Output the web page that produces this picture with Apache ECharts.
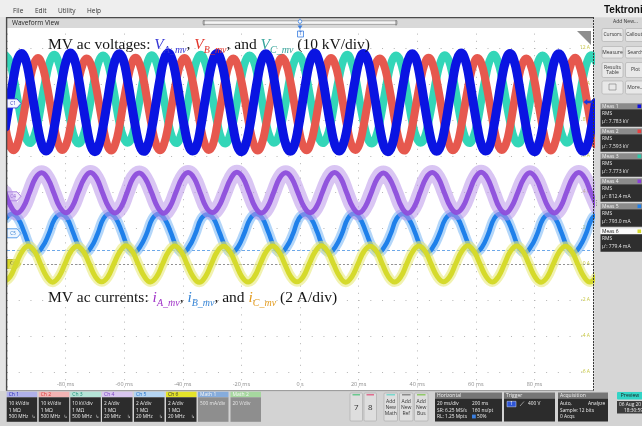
<!DOCTYPE html>
<html><head><meta charset="utf-8">
<script src="https://cdn.jsdelivr.net/npm/echarts/dist/echarts.min.js"></script>
<style>html,body{margin:0;padding:0;background:#dcdcdc;}#c{width:642px;height:426px;}</style>
</head><body><div id="c"></div>
<script>
// ---------------- data ----------------
const periodMs = 16.667;                 // 60 Hz
const voltStartMs = -100.56;             // time of first voltage sample
const voltStepMs = periodMs / 12;        // voltage sample spacing
const currStartA = -100.7, currStartB = -100.35, currStartC = -101.06;
const currStepMs = periodMs / 8;         // current sample spacing

// MV ac voltages, kV (Ch1 = A, Ch2 = B, Ch3 = C)
const vA = [
-6.6,0.3,7.0,12.2,13.9,12.1,6.8,-0.2,-6.8,-11.6,-13.2,-11.7,
-6.7,0.1,6.9,12.0,14.0,12.2,6.9,0.0,-6.6,-11.8,-13.4,-11.5,
-6.5,0.2,7.1,12.1,13.8,12.0,6.7,-0.1,-6.7,-11.7,-13.3,-11.6,
-6.8,0.0,6.8,12.2,14.0,12.1,7.0,0.1,-6.6,-11.6,-13.2,-11.8,
-6.6,0.3,7.0,12.0,13.9,11.9,6.8,-0.2,-6.8,-11.8,-13.4,-11.6,
-6.7,0.1,6.9,12.1,13.8,12.1,6.9,0.0,-6.7,-11.7,-13.3,-11.7,
-6.6,0.2,7.1,12.2,14.0,12.0,6.8,-0.1,-6.6,-11.6,-13.2,-11.5,
-6.8,0.1,6.8,12.0,13.9,12.2,7.0,0.1,-6.7,-11.8,-13.4,-11.7,
-6.5,0.3,7.0,12.1,13.8,12.0,6.7,-0.2,-6.8,-11.7,-13.3,-11.6,
-6.7,0.0,6.9,12.2,14.0,12.1,6.9,0.0,-6.6,-11.6,-13.2,-11.8,
-6.6,0.2,7.0,12.0,13.9,11.9,6.8,-0.1,-6.7,-11.8,-13.4,-11.6,
-6.8,0.1,6.8,12.1,13.8,12.1,7.0,0.1,-6.6,-11.7,-13.3,-11.7,
-6.7,0.2];
const vB = [
-6.4,-11.3,-13.0,-11.2,-6.3,0.1,6.3,10.9,12.6,10.8,6.2,0.0,
-6.5,-11.2,-12.9,-11.3,-6.4,0.0,6.4,10.8,12.5,10.9,6.3,0.1,
-6.3,-11.4,-13.1,-11.3,-6.5,0.2,6.2,10.9,12.7,10.9,6.4,-0.1,
-6.4,-11.3,-13.0,-11.2,-6.4,0.1,6.3,11.0,12.6,10.8,6.3,0.0,
-6.5,-11.3,-12.9,-11.4,-6.3,0.0,6.4,10.9,12.5,10.9,6.2,0.1,
-6.4,-11.2,-13.1,-11.3,-6.4,0.1,6.3,10.8,12.7,11.0,6.3,0.0,
-6.3,-11.3,-13.0,-11.2,-6.5,0.2,6.2,10.9,12.6,10.9,6.4,-0.1,
-6.5,-11.4,-12.9,-11.3,-6.4,0.0,6.4,11.0,12.5,10.8,6.3,0.1,
-6.4,-11.3,-13.1,-11.2,-6.3,0.1,6.3,10.9,12.7,10.9,6.2,0.0,
-6.5,-11.2,-13.0,-11.4,-6.4,0.0,6.2,10.8,12.6,11.0,6.3,0.1,
-6.3,-11.3,-12.9,-11.3,-6.5,0.2,6.4,10.9,12.5,10.9,6.4,-0.1,
-6.4,-11.4,-13.1,-11.2,-6.4,0.1,6.3,11.0,12.7,10.8,6.3,0.0,
-6.5,-11.3];
const vC = [
13.4,11.8,7.3,1.1,-5.1,-9.5,-11.0,-9.4,-5.2,1.2,7.2,11.9,
13.5,11.7,7.4,1.0,-5.0,-9.6,-11.1,-9.5,-5.1,1.1,7.3,11.8,
13.3,11.9,7.2,1.2,-5.2,-9.4,-10.9,-9.6,-5.0,1.0,7.4,11.7,
13.4,11.8,7.3,1.1,-5.1,-9.5,-11.0,-9.4,-5.2,1.2,7.2,11.9,
13.5,11.7,7.3,1.0,-5.0,-9.6,-11.1,-9.5,-5.1,1.1,7.3,11.8,
13.3,11.9,7.4,1.2,-5.2,-9.4,-10.9,-9.6,-5.0,1.0,7.4,11.7,
13.4,11.8,7.2,1.1,-5.1,-9.5,-11.0,-9.4,-5.2,1.2,7.2,11.9,
13.5,11.7,7.3,1.0,-5.0,-9.6,-11.1,-9.5,-5.1,1.1,7.3,11.8,
13.3,11.9,7.4,1.2,-5.2,-9.4,-10.9,-9.6,-5.0,1.0,7.4,11.7,
13.4,11.8,7.3,1.1,-5.1,-9.5,-11.0,-9.4,-5.2,1.2,7.2,11.9,
13.5,11.7,7.2,1.0,-5.0,-9.6,-11.1,-9.5,-5.1,1.1,7.3,11.8,
13.3,11.9,7.3,1.2,-5.2,-9.4,-10.9,-9.6,-5.0,1.0,7.4,11.7,
13.4,11.8];
// MV ac currents, A (Ch4 = A, Ch5 = B, Ch6 = C)
const iA = [
0.21,-0.58,-0.93,-0.61,0.19,1.01,1.31,0.99,
0.20,-0.61,-0.91,-0.59,0.22,0.99,1.33,1.01,
0.18,-0.60,-0.92,-0.62,0.20,1.02,1.30,0.98,
0.22,-0.59,-0.94,-0.60,0.21,1.00,1.32,1.00,
0.19,-0.62,-0.90,-0.58,0.18,0.98,1.34,1.02,
0.21,-0.60,-0.93,-0.61,0.20,1.01,1.31,0.99,
0.20,-0.58,-0.91,-0.60,0.22,1.00,1.33,1.01,
0.18,-0.61,-0.92,-0.59,0.19,0.99,1.30,0.98,
0.22,-0.60,-0.94,-0.62,0.21,1.02,1.32,1.00,
0.19,-0.59,-0.90,-0.60,0.18,1.00,1.34,1.02,
0.21,-0.62,-0.93,-0.58,0.20,0.98,1.31,0.99,
0.20,-0.60,-0.92,-0.61,0.22,1.01,1.33,1.01,
0.19,-0.60];
const iB = [
0.82,1.07,0.81,0.05,-0.78,-1.06,-0.74,-0.05,
0.80,1.06,0.83,0.04,-0.77,-1.07,-0.75,-0.04,
0.83,1.08,0.82,0.06,-0.79,-1.05,-0.73,-0.06,
0.81,1.07,0.80,0.05,-0.78,-1.06,-0.74,-0.05,
0.82,1.05,0.82,0.03,-0.76,-1.07,-0.76,-0.04,
0.80,1.07,0.83,0.05,-0.78,-1.06,-0.74,-0.05,
0.83,1.06,0.81,0.06,-0.79,-1.05,-0.73,-0.06,
0.81,1.08,0.82,0.04,-0.77,-1.07,-0.75,-0.05,
0.82,1.07,0.80,0.05,-0.78,-1.06,-0.74,-0.04,
0.80,1.06,0.83,0.05,-0.76,-1.05,-0.76,-0.05,
0.83,1.07,0.82,0.06,-0.79,-1.07,-0.74,-0.06,
0.81,1.05,0.81,0.04,-0.78,-1.06,-0.73,-0.05,
0.82,1.07];
const iC = [
-1.00,-0.72,0.01,0.70,1.00,0.72,0.00,-0.70,
-1.01,-0.71,0.00,0.71,0.99,0.71,0.01,-0.71,
-0.99,-0.73,-0.01,0.69,1.01,0.73,0.00,-0.69,
-1.00,-0.72,0.00,0.70,1.00,0.72,-0.01,-0.70,
-1.02,-0.71,0.01,0.71,0.98,0.70,0.00,-0.71,
-1.00,-0.72,0.00,0.70,1.00,0.72,0.01,-0.70,
-0.99,-0.73,-0.01,0.69,1.01,0.71,0.00,-0.69,
-1.01,-0.71,0.00,0.71,0.99,0.73,0.00,-0.71,
-1.00,-0.72,0.01,0.70,1.00,0.72,-0.01,-0.70,
-0.98,-0.72,0.00,0.70,1.02,0.71,0.00,-0.70,
-1.00,-0.71,0.00,0.71,1.00,0.72,0.01,-0.71,
-1.01,-0.73,-0.01,0.69,0.99,0.72,0.00,-0.69,
-1.00,-0.72];

// channel settings
const voltScaleKV = 10;   // kV/div
const currScaleA = 2;     // A/div
const chPosDiv = {c1: 4.46, c4: 1.88, c5: 0.853, c6: 0};  // offsets in divisions above Ch6 zero
const trigLevelKV = 0.4;
const cursorLevelA = 0.76;

// tick labels / readouts
const timeLabelsMs = [-80,-60,-40,-20,0,20,40,60,80];
const measNames = ['Meas 1','Meas 2','Meas 3','Meas 4','Meas 5','Meas 6'];
const measValues = ["\u03bc': 7.783 kV","\u03bc': 7.593 kV","\u03bc': 7.773 kV","\u03bc': 812.4 mA","\u03bc': 793.0 mA","\u03bc': 779.4 mA"];
const chNames = ['Ch 1','Ch 2','Ch 3','Ch 4','Ch 5','Ch 6','Math 1','Math 2'];
const chLine1 = ['10 kV/div','10 kV/div','10 kV/div','2 A/div','2 A/div','2 A/div','500 mA/div','20 V/div'];
const chLine2 = ['1 M\u03a9','1 M\u03a9','1 M\u03a9','1 M\u03a9','1 M\u03a9','1 M\u03a9','',''];
const chLine3 = ['500 MHz','500 MHz','500 MHz','20 MHz','20 MHz','20 MHz','',''];

// ---------------- build ----------------
// y axis is expressed in Ch6 amps (2 A per division)
const voltToAxis = v => (v / voltScaleKV + chPosDiv.c1) * currScaleA;
const currToAxis = (v, pos) => (v / currScaleA + pos) * currScaleA;
const voltSeries = (arr) => arr.map((v, i) => [voltStartMs + i * voltStepMs, voltToAxis(v)]);
const currSeries = (arr, start, pos) => arr.map((v, i) => [start + i * currStepMs, currToAxis(v, pos)]);

const UI = '"Open Sans","DejaVu Sans",sans-serif';
const SERIF = '"Liberation Serif","DejaVu Serif",serif';

function chMarker(label, y, fill, border, txt) {
  return {
    symbol: 'path://M0,0H10L14,5L10,10H0Z', symbolSize: [14, 9], symbolOffset: [7, 0],
    silent: true, animation: false,
    data: [{coord: [-100, y], itemStyle: {color: fill, borderColor: border, borderWidth: 0.8},
      label: {show: true, position: 'inside', formatter: label, fontSize: 4.5, color: txt, fontFamily: UI, offset: [-1, 0]}}]
  };
}
function line(name, data, color, width, opacity, z, extra) {
  return Object.assign({
    type: 'line', name, data, smooth: 0.45, showSymbol: false, symbol: 'none', z,
    animation: false, silent: true,
    lineStyle: {color, width, opacity, cap: 'round', join: 'round'}
  }, extra || {});
}

const dA = voltSeries(vA), dB = voltSeries(vB), dC = voltSeries(vC);
const d4 = currSeries(iA, currStartA, chPosDiv.c4);
const d5 = currSeries(iB, currStartB, chPosDiv.c5);
const d6 = currSeries(iC, currStartC, chPosDiv.c6);

const series = [
  line('Vc', dC, '#33d6b8', 8, 1, 2),
  line('Vb', dB, '#e6584e', 8, 1, 3),
  line('Va', dA, '#0a14e2', 9, 1, 4, {
    markPoint: {
      symbol: 'path://M0,0H10L14,5L10,10H0Z', silent: true, animation: false,
      data: [
        {coord: [-100, voltToAxis(0)], symbolSize: [14, 9], symbolOffset: [7, 0],
         itemStyle: {color: '#f6f6ff', borderColor: '#3b3bd8', borderWidth: 0.8},
         label: {show: true, position: 'inside', formatter: 'C1', fontSize: 4.5, color: '#2a2ac0', fontFamily: UI, offset: [-1, 0]}},
        {coord: [100, voltToAxis(trigLevelKV)], symbol: 'path://M0,5L5,0V3H12V7H5V10Z', symbolSize: [9, 6], symbolOffset: [-5, 0],
         itemStyle: {color: '#1838e0'}, label: {show: false}}
      ]
    }
  }),
  line('Ib halo', d5, '#74b4f4', 10, 0.55, 5),
  line('Ib', d5, '#1f80ea', 4.5, 1, 6, {
    markPoint: chMarker('C5', currToAxis(0, chPosDiv.c5), '#eef6ff', '#3d8de6', '#2a78d0'),
    markLine: {silent: true, symbol: 'none', animation: false, label: {show: false},
      data: [{yAxis: cursorLevelA, lineStyle: {color: '#5d9fe6', type: [3, 2], width: 0.9}},
             {yAxis: currToAxis(0, chPosDiv.c6), lineStyle: {color: '#888', type: [2, 2], width: 0.9}}]}
  }),
  line('Ic halo', d6, '#e8ea7c', 10, 0.6, 7),
  line('Ic', d6, '#d5da2c', 5, 1, 8, {
    markPoint: chMarker('C6', currToAxis(0, chPosDiv.c6), '#d8d826', '#b0b020', '#333')
  }),
  line('Ia halo', d4, '#b996ea', 15, 0.55, 9),
  line('Ia', d4, '#8d4edb', 5, 0.95, 10, {
    markPoint: chMarker('C4', currToAxis(0, chPosDiv.c4), '#efe6fb', '#9b6ad8', '#7c44c4')
  })
];

// ---------------- overlay: scope UI ----------------
const G = [];
const R = (x, y, w, h, fill, o = {}) => G.push({type: 'rect', z: o.z || 100, silent: true,
  shape: {x, y, width: w, height: h, r: o.r || 0}, style: {fill, stroke: o.stroke || null, lineWidth: o.lw || 0}});
const T = (x, y, text, size, fill, o = {}) => G.push({type: 'text', z: o.z || 102, silent: true, x, y,
  style: {text, fill, font: (o.weight || 'normal') + ' ' + size + 'px ' + (o.family || UI),
    textAlign: o.align || 'left', align: o.align || 'left', textVerticalAlign: 'middle', verticalAlign: 'middle'}});
const L = (x1, y1, x2, y2, stroke, lw, dash, z) => G.push({type: 'line', z: z || 101, silent: true,
  shape: {x1, y1, x2, y2}, style: {stroke, lineWidth: lw, lineDash: dash || null}});

// menu bar
R(0, 0, 642, 17.5, '#eeeeee');
[['File', 13], ['Edit', 35], ['Utility', 58], ['Help', 87]].forEach(m => T(m[1], 11, m[0], 6.5, '#333'));
T(604, 10.5, 'Tektronix', 10, '#111', {weight: 'bold', family: '"Liberation Sans",Arial,sans-serif'});
// left strip & window frame
R(0, 17.5, 6, 374, '#e4e4e4');
R(6, 17.5, 589, 10.5, '#d9d9d9');
T(12, 23, 'Waveform View', 6.5, '#222');
L(6, 17.6, 594, 17.6, '#4a4a4a', 1.3);
L(6.6, 17, 6.6, 391, '#4a4a4a', 1.4);
L(593.5, 17, 593.5, 391, '#3a3a3a', 1, [2, 1]);
L(6, 390.6, 594, 390.6, '#777', 0.8);
// time-overview slider and trigger-position marker
R(203, 20.8, 194, 3.6, '#f4f4f4', {stroke: '#8a8a8a', lw: 0.7});
L(204, 20, 204, 25.5, '#666', 0.8);
L(396, 20, 396, 25.5, '#666', 0.8);
L(300, 18.5, 300, 31, '#3b7fe0', 0.8, [1, 1]);
G.push({type: 'circle', z: 103, silent: true, shape: {cx: 300, cy: 21.5, r: 1.8}, style: {fill: '#fff', stroke: '#3b7fe0', lineWidth: 0.8}});
G.push({type: 'polygon', z: 103, silent: true, shape: {points: [[297.5, 25.5], [302.5, 25.5], [300, 29]]}, style: {fill: '#3b7fe0'}});
R(297.5, 31, 6, 6, '#f4f8ff', {stroke: '#3b7fe0', lw: 0.8, z: 103});
T(300.5, 34.2, 'T', 4.5, '#2a60c8', {align: 'center', z: 104});
// corner triangle
G.push({type: 'polygon', z: 100, silent: true, shape: {points: [[577, 31], [591, 31], [591, 45]]}, style: {fill: '#8e8e8e'}});

// right panel
R(595, 17.5, 47, 374, '#d6d6d6');
T(613, 22, 'Add New...', 5, '#333');
const btn = (x, y, w, h, lines) => {
  R(x, y, w, h, '#e8e8e8', {stroke: '#ababab', lw: 0.6, r: 1.5});
  lines.forEach((s, k) => T(x + w / 2, y + h / 2 + (k - (lines.length - 1) / 2) * 5.5, s, 5, '#333', {align: 'center'}));
};
btn(602, 28.5, 21, 13, ['Cursors']); btn(625.5, 28.5, 20, 13, ['Callouts']);
btn(602, 46.5, 21, 11.5, ['Measure']); btn(625.5, 46.5, 20, 11.5, ['Search']);
btn(602, 62.5, 21, 15, ['Results', 'Table']); btn(625.5, 62.5, 20, 15, ['Plot']);
btn(602, 81, 21, 13, ['']); btn(625.5, 81, 20, 13, ['More...']);
R(609, 84, 7, 6, 'none', {stroke: '#777', lw: 0.6, z: 102});
const measDot = ['#1010e0', '#e84040', '#2cc9a8', '#8a3fd8', '#1f80ea', '#d8dc30'];
measNames.forEach((nm, k) => {
  const y = 103.3 + k * 25;
  const sel = k === 5;
  R(600.5, y, 42, 6, sel ? '#fafafa' : '#8b8b8b');
  T(602, y + 3, nm, 5, sel ? '#222' : '#efefef');
  R(637.5, y + 1.2, 3.6, 3.6, measDot[k], {z: 102});
  R(600.5, y + 6, 42, 17.5, '#2e2e2e');
  T(602, y + 10.5, 'RMS', 5, '#e6e6e6');
  T(602, y + 18, measValues[k], 5, '#e6e6e6');
});
T(596.6, 203, '\u22ee', 7, '#555', {align: 'center'});

// bottom bar
R(0, 391, 642, 35, '#d3d3d3');
const badgeX = [6.7, 38.7, 70.3, 102, 134, 166, 198, 230.5];
const badgeHead = ['#b0b1ea', '#f3b4b4', '#b5e4d7', '#d8c6ef', '#b5d5f3', '#e4e42a', '#86acdc', '#a6d89f'];
const badgeHeadTxt = ['#2b2bb8', '#d63a3a', '#1d8e77', '#7a3fc0', '#1f6fc8', '#333', '#f6f6f6', '#f6f6f6'];
chNames.forEach((nm, k) => {
  const x = badgeX[k], math = k >= 6;
  R(x, 391.7, 30.5, 5.6, badgeHead[k]);
  T(x + 2, 394.6, nm, 5, badgeHeadTxt[k]);
  R(x, 397.3, 30.5, 24.5, math ? '#8e8e8e' : '#2c2c2c');
  T(x + 2, 403.6, chLine1[k], 4.8, math ? '#e8e8e8' : '#eeeeee');
  if (chLine2[k]) T(x + 2, 410.2, chLine2[k], 4.8, '#eeeeee');
  if (chLine3[k]) { T(x + 2, 416.8, chLine3[k], 4.8, '#eeeeee'); T(x + 27, 416.8, '\u21b3', 4.5, '#dddddd', {align: 'center'}); }
});
// buttons 7 / 8 / add new
const bigBtn = (x, w, top, label) => {
  R(x, 393, w, 28, '#dedede', {stroke: '#a8a8a8', lw: 0.6, r: 1});
  L(x + 2.5, 394.8, x + w - 2.5, 394.8, top, 1.2, null, 103);
  if (label) T(x + w / 2, 408, label, 8, '#333', {align: 'center'});
};
bigBtn(350, 12.5, '#4cc27a', '7'); bigBtn(364, 12.5, '#e0507a', '8');
[['Math', 384, '#5fd7c9'], ['Ref', 399.5, '#777777'], ['Bus', 414.5, '#7cc34a']].forEach(b => {
  bigBtn(b[1], 13.5, b[2], '');
  ['Add', 'New', b[0]].forEach((s, k) => T(b[1] + 6.75, 401.5 + k * 5.8, s, 5, '#333', {align: 'center'}));
});
const infoBox = (x, w, title) => {
  R(x, 392.5, w, 6, '#767676');
  T(x + 2, 395.5, title, 5, '#f0f0f0');
  R(x, 398.5, w, 23, '#2c2c2c');
};
infoBox(435, 67, 'Horizontal');
T(437, 404, '20 ms/div', 4.8, '#eee'); T(472, 404, '200 ms', 4.8, '#eee');
T(437, 410.3, 'SR: 6.25 MS/s', 4.8, '#eee'); T(472, 410.3, '160 ns/pt', 4.8, '#eee');
T(437, 416.6, 'RL: 1.25 Mpts', 4.8, '#eee');
R(472, 414.6, 3.8, 3.8, '#3b7fe0', {z: 102}); T(477, 416.6, '50%', 4.8, '#eee');
infoBox(504, 51, 'Trigger');
R(507, 401.3, 9, 5.5, '#2e56d8', {stroke: '#cfd8ff', lw: 0.5, z: 102});
T(511.5, 404.1, '1', 4.5, '#fff', {align: 'center', z: 103});
L(520, 406, 524, 401.5, '#bbb', 0.7, null, 103);
T(528, 404, '400 V', 4.8, '#eee');
infoBox(558, 50, 'Acquisition');
T(560, 404, 'Auto,', 4.8, '#eee'); T(588, 404, 'Analyze', 4.8, '#eee');
T(560, 410.3, 'Sample: 12 bits', 4.8, '#eee');
T(560, 416.6, '0 Acqs', 4.8, '#eee');
R(617, 392, 26, 7.5, '#33d4c6', {r: 1});
T(630, 395.8, 'Preview', 5, '#1a1a1a', {align: 'center'});
R(617, 401, 26, 12.5, '#3c3c3c');
T(619, 404.5, '06 Aug 20', 4.8, '#eee'); T(624, 410.3, '18:30:59', 4.8, '#eee');

// annotation texts (serif, with coloured symbols)
const sub = (c) => ({fontSize: 10, fontStyle: 'italic', fill: c, color: c, fontFamily: SERIF, lineHeight: 10, padding: [10, 0, 0, 0]});
const sym = (c) => ({fontSize: 15.5, fontStyle: 'italic', fill: c, color: c, fontFamily: SERIF});
const norm = {fontSize: 15.5, fill: '#151515', color: '#151515', fontFamily: SERIF};
G.push({type: 'text', z: 60, silent: true, x: 48, y: 45,
  style: {text: '{n|MV ac voltages: }{va|V}{sa|A_mv}{n|, }{vb|V}{sb|B_mv}{n|, and }{vc|V}{sc|C_mv}{n| (10 kV/div)}',
    textVerticalAlign: 'middle', verticalAlign: 'middle',
    rich: {n: norm, va: sym('#3636d6'), sa: sub('#3636d6'), vb: sym('#e3352b'), sb: sub('#e3352b'), vc: sym('#36a59b'), sc: sub('#36a59b')}}});
G.push({type: 'text', z: 60, silent: true, x: 48, y: 298,
  style: {text: '{n|MV ac currents: }{ia|i}{sa|A_mv}{n|, }{ib|i}{sb|B_mv}{n|, and }{ic|i}{sc|C_mv}{n| (2 A/div)}',
    textVerticalAlign: 'middle', verticalAlign: 'middle',
    rich: {n: norm, ia: sym('#a032c8'), sa: sub('#a032c8'), ib: sym('#3584d6'), sb: sub('#3584d6'), ic: sym('#e29a1c'), sc: sub('#e29a1c')}}});

const chart = echarts.init(document.getElementById('c'), null, {renderer: 'canvas', width: 642, height: 426});
chart.setOption({
  animation: false,
  backgroundColor: '#dcdcdc',
  grid: {left: 7, right: 49, top: 12, bottom: 18, show: true, backgroundColor: '#ffffff', borderWidth: 0},
  xAxis: {type: 'value', min: -100, max: 100, interval: 20,
    axisLine: {show: false}, axisTick: {show: false},
    splitLine: {show: true, lineStyle: {color: '#b4b4b4', width: 1, type: [1, 6.2]}},
    axisLabel: {margin: -27, fontSize: 5.5, color: '#8c8c8c', fontFamily: UI,
      formatter: v => timeLabelsMs.indexOf(v) < 0 ? '' : (v === 0 ? '0 s' : v + ' ms')}},
  yAxis: {type: 'value', min: -8, max: 14, interval: 2, position: 'right',
    axisLine: {show: false}, axisTick: {show: false},
    splitLine: {show: true, lineStyle: {color: '#b4b4b4', width: 1, type: [1, 10.72]}},
    axisLabel: {inside: true, margin: 3, fontSize: 5, color: '#c6c640', fontFamily: UI, formatter: v => v + ' A'}},
  series,
  graphic: {elements: G}
});
</script></body></html>
